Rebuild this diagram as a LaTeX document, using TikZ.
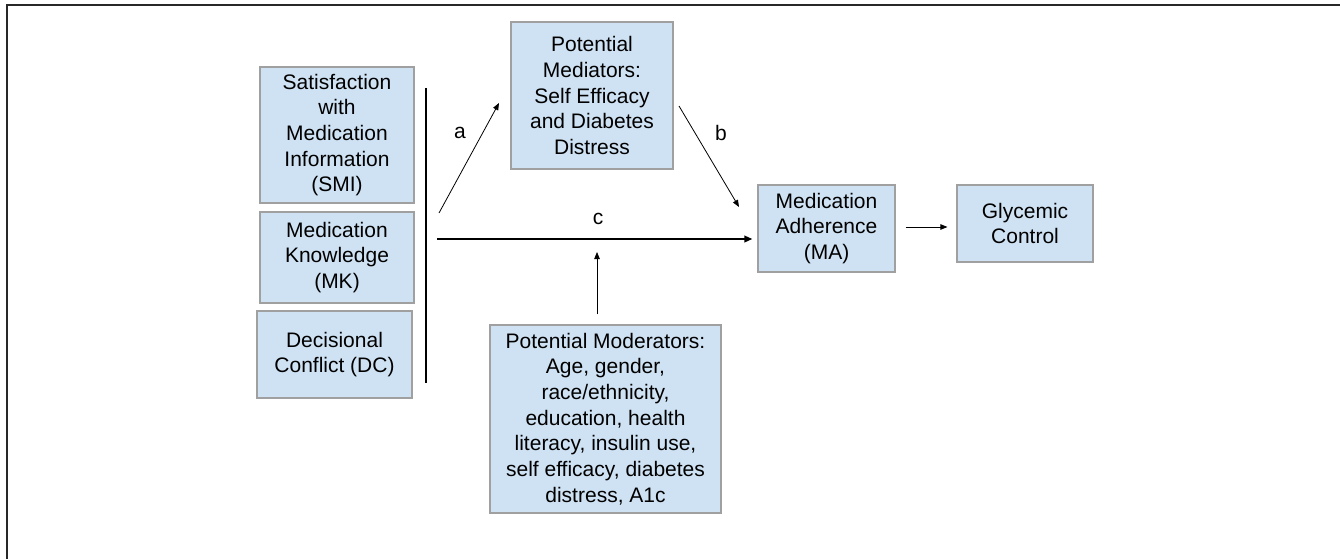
\documentclass[tikz,border=0pt]{standalone}
\usepackage{fontspec}
\setmainfont{Liberation Sans}
\usetikzlibrary{arrows.meta}
\definecolor{boxfill}{RGB}{207,226,243}
\definecolor{boxline}{RGB}{160,160,160}
\definecolor{framecol}{RGB}{40,40,40}
\begin{document}
\begin{tikzpicture}[x=1pt,y=-1pt,
  box/.style={draw=boxline,line width=1.2pt,fill=boxfill,align=center,inner sep=0pt,
    font=\fontsize{21}{25.7}\selectfont},
  lbl/.style={font=\fontsize{21}{25}\selectfont,inner sep=0pt},
  arr/.style={-{Triangle[length=7pt,width=5.5pt]},line width=0.8pt},
]
\useasboundingbox (0,0) rectangle (1340,559);
\fill[white] (0,0) rectangle (1340,559);
\draw[framecol,line width=2pt] (7,559) -- (7,5) -- (1340,5);

\node[box,minimum width=154pt,minimum height=136pt] (smi) at (337,135)
  {Satisfaction\\with\\Medication\\Information\\(SMI)};
\node[box,minimum width=154pt,minimum height=91pt] (mk) at (337,257.5)
  {Medication\\Knowledge\\(MK)};
\node[box,minimum width=155pt,minimum height=87pt] (dc) at (334.5,354.5)
  {Decisional\\Conflict (DC)};
\node[box,minimum width=162pt,minimum height=147pt] (med) at (592,95.5)
  {Potential\\Mediators:\\Self Efficacy\\and Diabetes\\Distress};
\node[box,minimum width=137pt,minimum height=87pt] (ma) at (826.5,228.5)
  {Medication\\Adherence\\(MA)};
\node[box,minimum width=136pt,minimum height=77pt] (gc) at (1025,223.5)
  {Glycemic\\Control};
\node[box,minimum width=231pt,minimum height=188pt] (mod) at (605.5,419)
  {Potential Moderators:\\Age, gender,\\race/ethnicity,\\education, health\\literacy, insulin use,\\self efficacy, diabetes\\distress, A1c};

% grouping bar
\coordinate (barTop) at (426,88);
\coordinate (barBot) at (426,383);
\draw[line width=1.3pt] (barTop) -- (barBot);

% path a
\coordinate (aStart) at (439,213);
\coordinate (aEnd) at (499,103);
\draw[arr] (aStart) -- (aEnd);
\node[lbl] (la) at (460,133) {a};

% path b
\coordinate (bStart) at (679,106);
\coordinate (bEnd) at (739,207);
\draw[arr] (bStart) -- (bEnd);
\node[lbl] (lb) at (721,133) {b};

% path c
\coordinate (cStart) at (437,239);
\draw[-{Triangle[length=8pt,width=6.5pt]},line width=2.6pt,shorten >=5pt] (cStart) -- (cStart -| ma.west);
\node[lbl] (lc) at (598,219) {c};

% moderator
\coordinate (modEnd) at (597,252);
\draw[arr,shorten <=10pt] (mod.north -| modEnd) -- (modEnd);

% MA -> GC
\draw[arr,shorten <=10pt,shorten >=9pt] (ma.east |- 0,227) -- (gc.west |- 0,227);
\end{tikzpicture}
\end{document}
